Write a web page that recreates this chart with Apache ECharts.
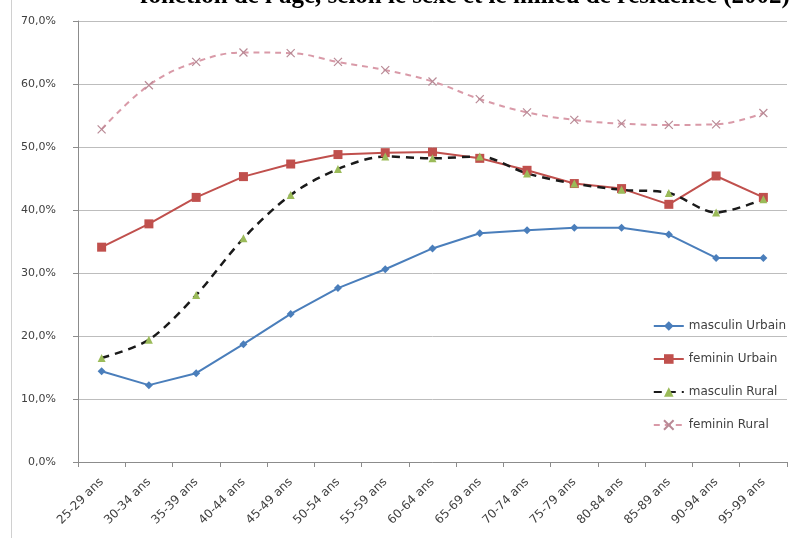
<!DOCTYPE html>
<html>
<head>
<meta charset="utf-8">
<script src="https://cdn.jsdelivr.net/npm/echarts@6/dist/echarts.min.js"></script>
<style>html,body{margin:0;padding:0;background:#fff;}#c{width:801px;height:538px;}</style>
</head>
<body>
<div id="c"></div>
<script>
var categories = ['25-29 ans','30-34 ans','35-39 ans','40-44 ans','45-49 ans','50-54 ans','55-59 ans','60-64 ans','65-69 ans','70-74 ans','75-79 ans','80-84 ans','85-89 ans','90-94 ans','95-99 ans'];
var masculinUrbain = [14.4,12.2,14.1,18.7,23.5,27.6,30.6,33.9,36.3,36.8,37.2,37.2,36.1,32.4,32.4];
var femininUrbain = [34.1,37.8,42.0,45.3,47.3,48.8,49.1,49.2,48.2,46.3,44.2,43.4,40.9,45.4,42.0];
var masculinRural = [16.5,19.4,26.5,35.5,42.4,46.5,48.5,48.2,48.5,45.8,44.2,43.2,42.7,39.6,41.7];
var femininRural = [52.8,59.8,63.5,65.0,64.9,63.5,62.2,60.4,57.6,55.5,54.3,53.7,53.5,53.6,55.4];
var yTicks = [0,10,20,30,40,50,60,70];
var titleText = "fonction de l'âge, selon le sexe et le milieu de résidence (2002)";

var chart = echarts.init(document.getElementById('c'), null, {renderer:'canvas'});
var crossPath = 'path://M0,0L10,10M10,0L0,10';
chart.setOption({
  animation:false,
  backgroundColor:'#fff',
  graphic:[
    {type:'text', x:465, y:9, style:{text:titleText, font:'bold 25px "Liberation Serif", "DejaVu Serif", serif', fill:'#000', textAlign:'center', textVerticalAlign:'bottom'}},
    {type:'rect', shape:{x:11, y:0, width:1, height:538}, style:{fill:'#d0d0d0'}}
  ],
  grid:{left:78, right:14, top:21, bottom:76},
  legend:{
    orient:'vertical', right:10, top:315, itemGap:21, itemWidth:30, itemHeight:12,
    textStyle:{color:'#404040', fontSize:12, fontFamily:'"DejaVu Sans", sans-serif'},
    data:['masculin Urbain','feminin Urbain','masculin Rural','feminin Rural']
  },
  xAxis:{
    type:'category', data:categories, boundaryGap:true,
    axisLine:{lineStyle:{color:'#8c8c8c', width:1}},
    axisTick:{show:true, alignWithLabel:false, length:5, lineStyle:{color:'#8c8c8c'}},
    axisLabel:{rotate:45, fontSize:12, color:'#404040', interval:0, margin:18, fontFamily:'"DejaVu Sans", sans-serif'},
    splitLine:{show:false}
  },
  yAxis:{
    type:'value', min:0, max:70, interval:10,
    axisLine:{show:true, lineStyle:{color:'#8c8c8c'}},
    axisTick:{show:true, length:5, lineStyle:{color:'#8c8c8c'}},
    axisLabel:{fontSize:11, color:'#404040', margin:22, fontFamily:'"DejaVu Sans", sans-serif',
      formatter:function(v){ return v.toFixed(1).replace('.',',')+'%'; }},
    splitLine:{lineStyle:{color:'#bdbdbd', width:1}}
  },
  series:[
    {name:'masculin Urbain', type:'line', data:masculinUrbain, symbol:'diamond', symbolSize:8,
      lineStyle:{color:'#4a7ebb', width:2}, itemStyle:{color:'#4a7ebb'}},
    {name:'feminin Urbain', type:'line', data:femininUrbain, symbol:'rect', symbolSize:9,
      lineStyle:{color:'#c0504d', width:2}, itemStyle:{color:'#c0504d'}},
    {name:'masculin Rural', type:'line', data:masculinRural, symbol:'triangle', symbolSize:8, smooth:0.3,
      lineStyle:{color:'#1a1a1a', width:2.5, type:[8,6]}, itemStyle:{color:'#9bbb59'}},
    {name:'feminin Rural', type:'line', data:femininRural, symbol:crossPath, symbolSize:8, smooth:0.4,
      lineStyle:{color:'#d99aa8', width:2, type:[6,5]}, itemStyle:{color:'#fff', borderColor:'#b98a96', borderWidth:1.2}}
  ]
});
</script>
</body>
</html>
